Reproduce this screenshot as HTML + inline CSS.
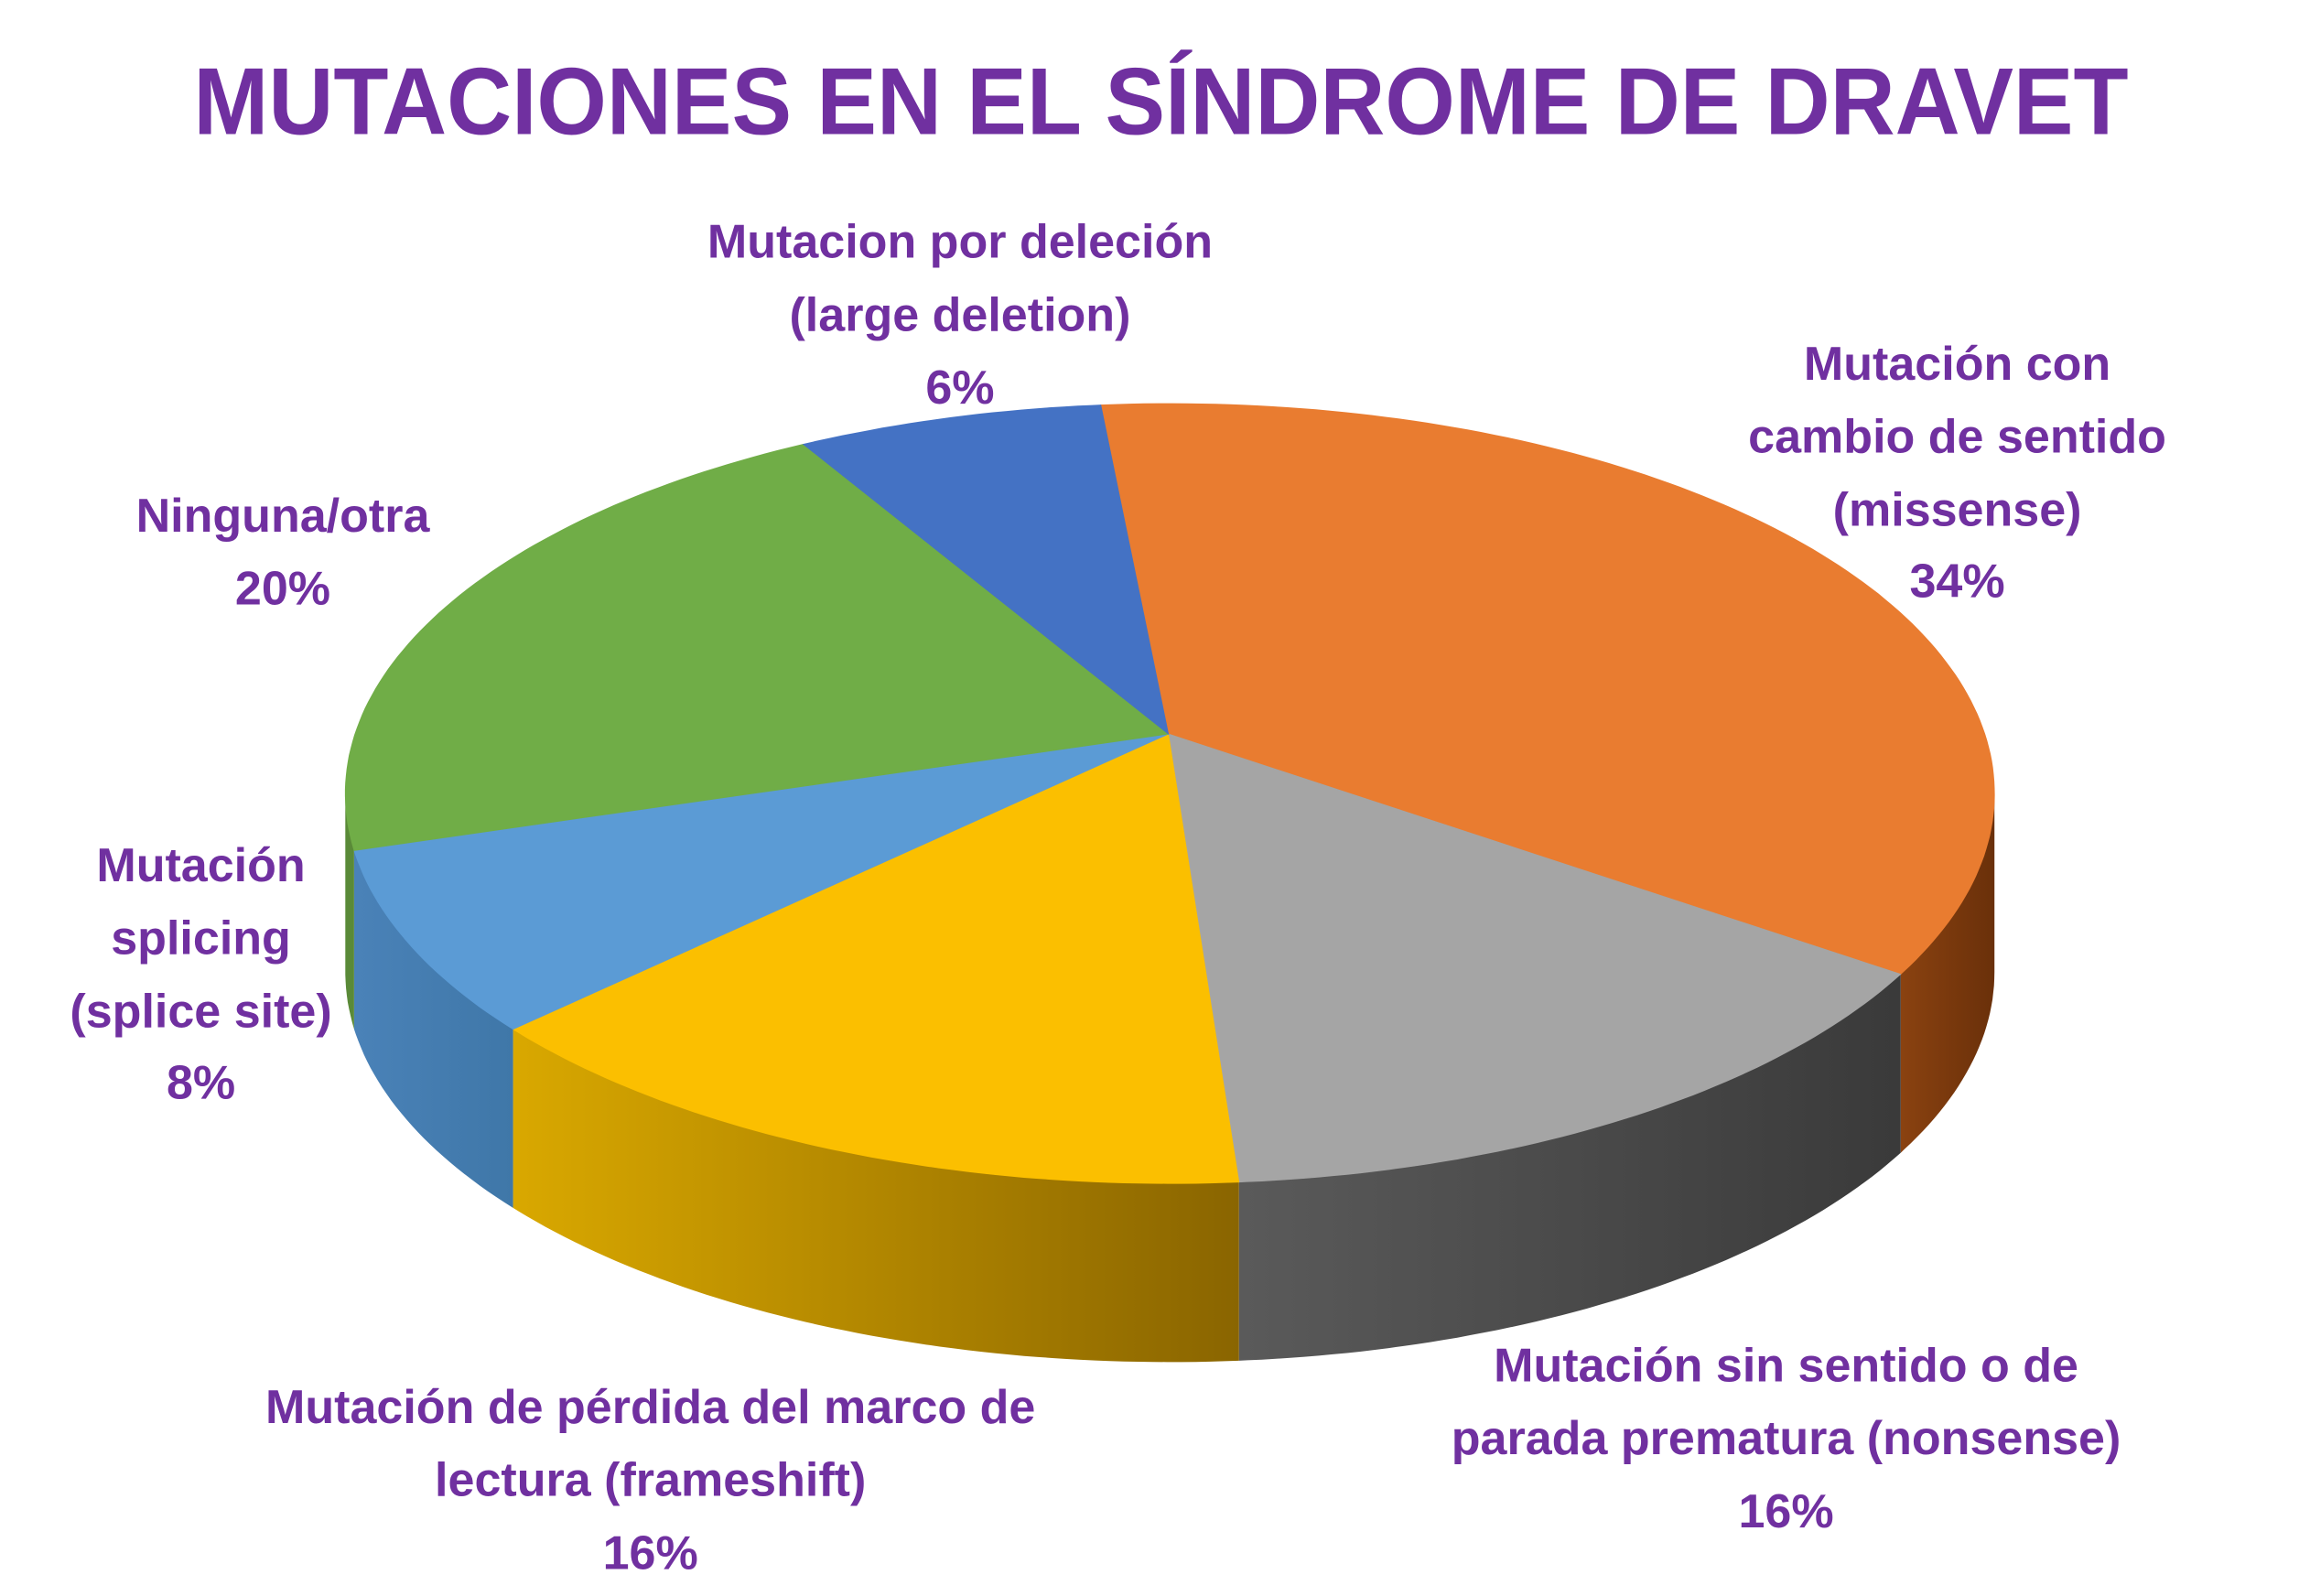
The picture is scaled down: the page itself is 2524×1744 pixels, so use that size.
<!DOCTYPE html>
<html><head><meta charset="utf-8"><style>
html,body{margin:0;padding:0;background:#fff;}
svg{display:block;}
text{font-family:"Liberation Sans",sans-serif;font-weight:bold;fill:#7030A0;}
</style></head><body>
<svg id="chart" width="2524" height="1744" viewBox="0 0 1552 1072" xmlns="http://www.w3.org/2000/svg">
<defs>
<linearGradient id="gYel" x1="0" x2="1" y1="0" y2="0"><stop offset="0" stop-color="#d9a800"/><stop offset="1" stop-color="#8a6500"/></linearGradient>
<linearGradient id="gGry" x1="0" x2="1" y1="0" y2="0"><stop offset="0" stop-color="#5a5a5a"/><stop offset="1" stop-color="#3a3a3a"/></linearGradient>
<linearGradient id="gBlu" x1="0" x2="1" y1="0" y2="0"><stop offset="0" stop-color="#4a82b8"/><stop offset="1" stop-color="#3f77a8"/></linearGradient>
<linearGradient id="gOra" x1="0" x2="1" y1="0" y2="0"><stop offset="0" stop-color="#8a4210"/><stop offset="1" stop-color="#6a300a"/></linearGradient>
</defs>
<text x="780" y="90" text-anchor="middle" font-size="64" textLength="1300" lengthAdjust="spacingAndGlyphs">MUTACIONES EN EL SÍNDROME DE DRAVET</text>
<g id="sides"></g>
<g id="tops"></g>
<g id="labels">
<g font-size="32" text-anchor="middle">
<text x="645" y="173">Mutacion por deleción</text><text x="645" y="222">(large deletion)</text><text x="645" y="271">6%</text></g>
<g font-size="32" text-anchor="middle">
<text x="1315" y="255">Mutación con</text><text x="1315" y="304">cambio de sentido</text><text x="1315" y="353">(missense)</text><text x="1315" y="401">34%</text></g>
<g font-size="32" text-anchor="middle">
<text x="190" y="357">Ninguna/otra</text><text x="190" y="406">20%</text></g>
<g font-size="32" text-anchor="middle">
<text x="135" y="592">Mutación</text><text x="135" y="641">splicing</text><text x="135" y="690">(splice site)</text><text x="135" y="738">8%</text></g>
<g font-size="32" text-anchor="middle">
<text x="437" y="956">Mutación de pérdida del marco de</text><text x="437" y="1005">lectura (frameshift)</text><text x="437" y="1054">16%</text></g>
<g font-size="32" text-anchor="middle">
<text x="1200" y="928">Mutación sin sentido o de</text><text x="1200" y="977">parada prematura (nonsense)</text><text x="1200" y="1026">16%</text></g>
</g>
</svg>
<script>
const categories = ["missense","nonsense","frameshift","splicing","ninguna","deletion"];
const values = [34,16,16,8,20,6];
const topColors = ["#E97C30","#A5A5A5","#FBBF00","#5B9BD5","#70AD47","#4472C4"];
const sideColors = ["url(#gOra)","url(#gGry)","url(#gYel)","url(#gBlu)","#5a8a38","#3a5fa0"];
const NS="http://www.w3.org/2000/svg";
const cx=786, cy=533, rx=554, ry=262, ax=785, ay=493, depth=120, startDeg=-4.8;
function pt(tDeg, dy){const t=tDeg*Math.PI/180;return [cx+rx*Math.sin(t), cy-ry*Math.cos(t)+(dy||0)];}
const total=values.reduce((a,b)=>a+b,0);
const sides=document.getElementById('sides'), tops=document.getElementById('tops');
let a=startDeg;
values.forEach((v,i)=>{
  const a1=a, a2=a+v/total*360; a=a2;
  // top face
  let d=`M${ax},${ay}`;
  for(let t=a1;t<=a2+0.001;t+=Math.min(1,(a2-a1)/2)){const p=pt(Math.min(t,a2));d+=` L${p[0].toFixed(1)},${p[1].toFixed(1)}`;}
  const pe=pt(a2);d+=` L${pe[0].toFixed(1)},${pe[1].toFixed(1)} Z`;
  const path=document.createElementNS(NS,'path');
  path.setAttribute('d',d);path.setAttribute('fill',topColors[i]);
  path.setAttribute('stroke',topColors[i]);path.setAttribute('stroke-width','0.5');
  
  
  tops.appendChild(path);
  // side wall (front half: 90..270)
  const s1=Math.max(a1,90), s2=Math.min(a2,270);
  if(s2>s1){
    let top=[],bot=[];
    for(let t=s1;t<=s2+0.001;t+=1){const tt=Math.min(t,s2);top.push(pt(tt));bot.push(pt(tt,depth));}
    top.push(pt(s2));bot.push(pt(s2,depth));
    const pts=top.concat(bot.reverse()).map(p=>p[0].toFixed(1)+','+p[1].toFixed(1)).join(' ');
    const poly=document.createElementNS(NS,'polygon');
    poly.setAttribute('points',pts);poly.setAttribute('fill',sideColors[i]);
    
    
    sides.appendChild(poly);
  }
});
</script>
</body></html>
